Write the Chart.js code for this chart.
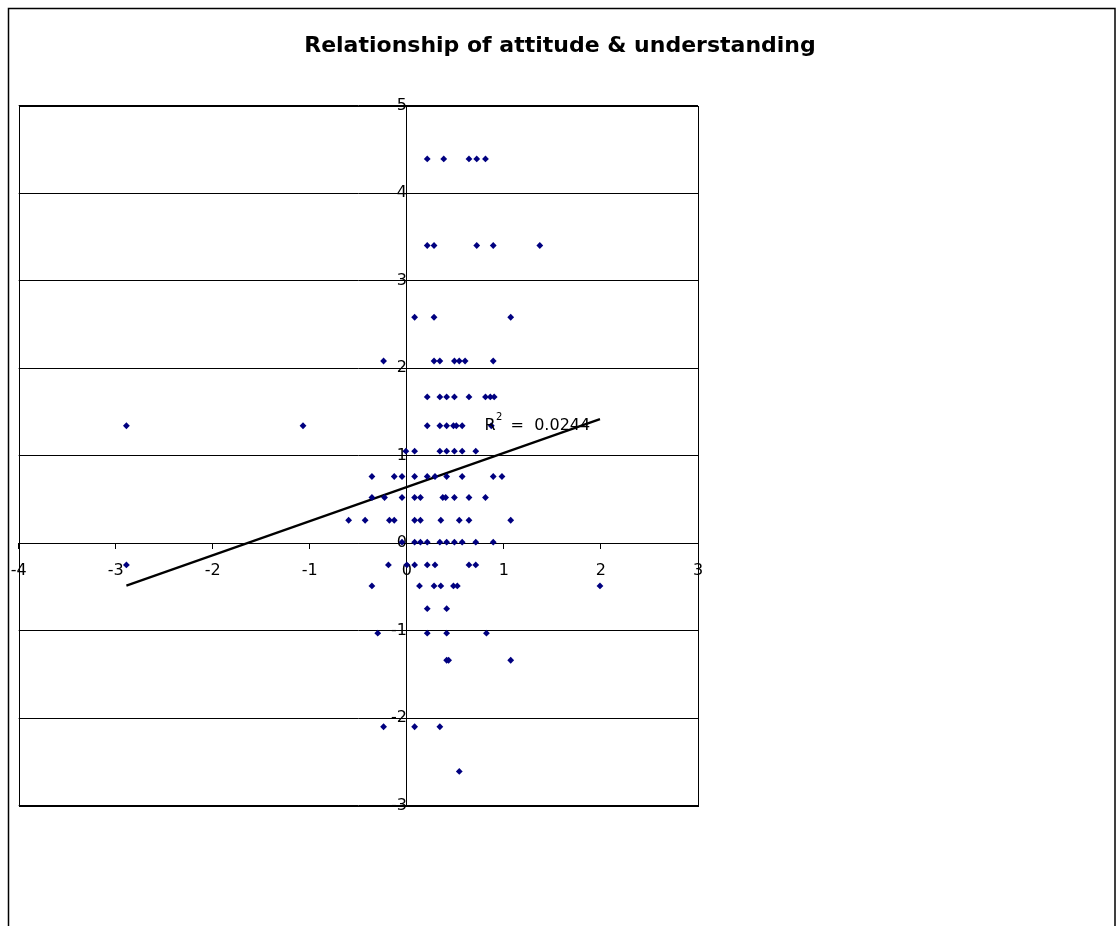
<!DOCTYPE html>
<html>
<head>
<meta charset="utf-8">
<title>Relationship of attitude & understanding</title>
<script src="https://cdn.jsdelivr.net/npm/chart.js@4/dist/chart.umd.min.js"></script>
<style>
  html, body { margin:0; padding:0; background:#fff; }
  #wrap { width:1116px; height:926px; }
</style>
</head>
<body>
<div id="wrap"><canvas id="chart" width="1116" height="926"></canvas></div>
<script>
// understanding score levels (y) and the attitude scores (x) seen on each level
const levels = [4.39, 3.40, 2.58, 2.08, 1.67, 1.34, 1.05, 0.76, 0.52, 0.26, 0.01,
                -0.25, -0.49, -0.75, -1.03, -1.34, -2.10, -2.61];
const attitudeAtLevel = [
  [0.21, 0.38, 0.64, 0.72, 0.81],
  [0.21, 0.28, 0.72, 0.89, 1.37],
  [0.08, 0.28, 1.07],
  [-0.24, 0.28, 0.34, 0.49, 0.54, 0.60, 0.89],
  [0.21, 0.34, 0.41, 0.49, 0.64, 0.81, 0.86, 0.90],
  [-2.89, -1.07, 0.21, 0.34, 0.41, 0.48, 0.51, 0.57, 0.87],
  [-0.01, 0.08, 0.34, 0.41, 0.49, 0.57, 0.71],
  [-0.36, -0.13, -0.05, 0.08, 0.21, 0.29, 0.41, 0.57, 0.89, 0.98],
  [-0.36, -0.23, -0.05, 0.08, 0.14, 0.37, 0.40, 0.49, 0.64, 0.81],
  [-0.60, -0.43, -0.18, -0.13, 0.08, 0.14, 0.35, 0.54, 0.64, 1.07],
  [-0.05, 0.08, 0.14, 0.21, 0.34, 0.41, 0.49, 0.57, 0.71, 0.89],
  [-2.89, -0.19, 0.00, 0.08, 0.21, 0.29, 0.64, 0.71],
  [-0.36, 0.13, 0.28, 0.35, 0.48, 0.52, 1.99],
  [0.21, 0.41],
  [-0.30, 0.21, 0.41, 0.82],
  [0.41, 0.43, 1.07],
  [-0.24, 0.08, 0.34],
  [0.54]
];

// linear trend
const trendSlope     = 0.39;
const trendIntercept = 0.64;
const rSquared       = '0.0244';

const titulo = 'Relationship of attitude & understanding';
const xTicks = [-4, -3, -2, -1, 0, 1, 2, 3];
const yTicks = [-3, -2, -1, 0, 1, 2, 3, 4, 5];

const puntos = [];
levels.forEach((y, i) => attitudeAtLevel[i].forEach(x => puntos.push({ x, y })));

const xs   = puntos.map(p => p.x);
const minX = Math.min(...xs), maxX = Math.max(...xs);
const tendencia = [minX, maxX].map(x => ({ x, y: trendIntercept + trendSlope * x }));

const FONT = "'DejaVu Sans', Verdana, sans-serif";

// marcos: borde exterior, borde del area de trazado, titulo y etiqueta R²
const marcos = {
  id: 'marcos',
  beforeDraw(chart) {
    const c = chart.ctx;
    c.save();
    c.fillStyle = '#fff';
    c.fillRect(0, 0, chart.width, chart.height);
    c.strokeStyle = '#000';
    c.lineWidth = 1.5;
    c.strokeRect(8.5, 8.5, chart.width - 9.5, chart.height + 40);
    c.restore();
  },
  afterDraw(chart) {
    const c = chart.ctx, a = chart.chartArea;
    c.save();
    c.strokeStyle = '#000';
    c.lineWidth = 1;
    c.strokeRect(Math.round(a.left) + 0.5, Math.round(a.top) + 0.5,
                 Math.round(a.right - a.left), Math.round(a.bottom - a.top));

    // titulo centrado sobre todo el lienzo
    c.fillStyle = '#000';
    c.font = `bold 22px ${FONT}`;
    c.textAlign = 'center';
    c.textBaseline = 'middle';
    c.fillText(titulo, 560, 46);

    // R² label next to the trend line
    const px = chart.scales.x.getPixelForValue(0.8);
    const py = chart.scales.y.getPixelForValue(1.35) + 5;
    c.textAlign = 'left';
    c.textBaseline = 'alphabetic';
    c.font = `16px ${FONT}`;
    c.fillText('R', px, py);
    const wR = c.measureText('R').width;
    c.font = `10px ${FONT}`;
    c.fillText('2', px + wR + 0.5, py - 10);
    c.font = `16px ${FONT}`;
    c.fillText('=  ' + rSquared, px + wR + 15, py);
    c.restore();
  }
};

new Chart(document.getElementById('chart'), {
  type: 'scatter',
  data: {
    datasets: [
      {
        label: 'Series1',
        data: puntos,
        pointStyle: 'rectRot',
        pointRadius: 3.4,
        pointBorderWidth: 0,
        backgroundColor: '#000080',
        borderColor: '#000080',
      },
      {
        type: 'line',
        label: 'Linear (Series1)',
        data: tendencia,
        borderColor: '#000',
        borderWidth: 2.2,
        pointRadius: 0,
        fill: false,
      }
    ]
  },
  options: {
    responsive: false,
    animation: false,
    layout: { padding: { left: 15, right: 418, top: 105.5, bottom: 120.5 } },
    plugins: {
      legend:  { display: false },
      tooltip: { enabled: false },
      title:   { display: false },
    },
    scales: {
      x: {
        type: 'linear',
        position: { y: 0 },
        min: xTicks[0], max: xTicks[xTicks.length - 1],
        afterBuildTicks: s => { s.ticks = xTicks.map(v => ({ value: v })); },
        ticks: { color: '#000', font: { family: FONT, size: 16, lineHeight: 1.5 }, padding: 10.7,
                 autoSkip: false, maxRotation: 0 },
        grid: { drawOnChartArea: false, drawTicks: true, tickLength: 5, color: '#000' },
        border: { display: true, color: '#000', width: 1 },
      },
      y: {
        type: 'linear',
        position: { x: 0 },
        min: yTicks[0], max: yTicks[yTicks.length - 1],
        afterBuildTicks: s => { s.ticks = yTicks.map(v => ({ value: v })); },
        ticks: { color: '#000', font: { family: FONT, size: 16 }, padding: 9, autoSkip: false },
        grid: { color: '#000', lineWidth: 1, tickLength: 6 },
        border: { display: true, color: '#000', width: 1 },
      }
    }
  },
  plugins: [marcos]
});
</script>
</body>
</html>
